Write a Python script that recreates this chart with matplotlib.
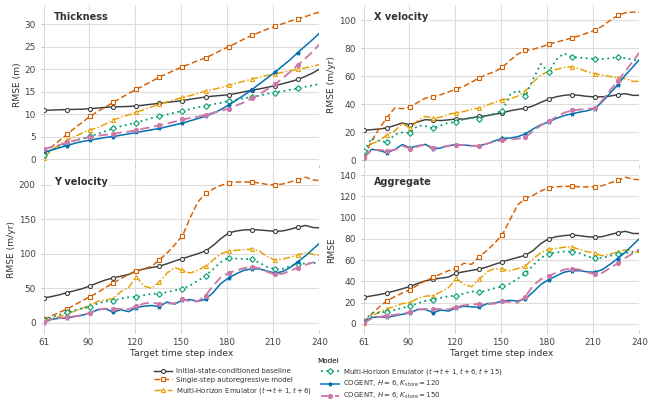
import matplotlib
matplotlib.use("Agg")
import matplotlib.pyplot as plt

# target time step index (every 5 steps, last one 240)
steps = [61, 66, 71, 76, 81, 86, 91, 96, 101, 106, 111, 116, 121, 126, 131, 136, 141, 146,
         151, 156, 161, 166, 171, 176, 181, 186, 191, 196, 201, 206, 211, 216, 221, 226,
         231, 236, 240]

models = [
    "Initial-state-conditioned baseline",
    "Single-step autoregressive model",
    r"Multi-Horizon Emulator ($t \rightarrow t+1, t+6$)",
    r"Multi-Horizon Emulator ($t \rightarrow t+1, t+6, t+15$)",
    r"COGENT, $H=6$, $K_{\rm store}=120$",
    r"COGENT, $H=6$, $K_{\rm store}=150$",
]

# ---- Thickness RMSE (m) ----
thk_base = [10.8, 10.9, 10.95, 11.0, 11.05, 11.1, 11.2, 11.35, 11.5, 11.6, 11.65, 11.7, 11.8, 12.0,
            12.2, 12.4, 12.6, 12.8, 13.0, 13.3, 13.55, 13.8, 14.0, 14.15, 14.3, 14.6, 14.95, 15.3,
            15.6, 15.95, 16.3, 16.75, 17.2, 17.7, 18.4, 19.2, 20.0]
thk_ar = [1.0, 2.7, 4.1, 5.5, 6.9, 8.2, 9.5, 10.6, 11.6, 12.6, 13.6, 14.6, 15.5, 16.4, 17.3, 18.2,
          19.0, 19.8, 20.5, 21.2, 21.9, 22.5, 23.3, 24.2, 25.0, 25.8, 26.7, 27.5, 28.2, 28.9, 29.5,
          30.1, 30.7, 31.2, 31.7, 32.3, 32.7]
thk_mh2 = [0.3, 2.0, 3.2, 4.2, 5.0, 5.8, 6.5, 7.0, 7.8, 8.7, 9.3, 9.8, 10.4, 11.0, 11.6, 12.2, 12.7,
           13.2, 13.7, 14.1, 14.6, 15.1, 15.5, 15.9, 16.4, 16.9, 17.3, 17.8, 18.2, 18.6, 18.9,
           19.3, 19.6, 20.0, 20.3, 20.7, 21.0]
thk_mh3 = [0.8, 2.0, 2.8, 3.4, 4.1, 4.6, 5.1, 5.6, 6.2, 6.8, 7.3, 7.7, 8.1, 8.6, 9.1, 9.5, 9.9, 10.3,
           10.7, 11.1, 11.5, 11.8, 12.2, 12.5, 12.9, 13.2, 13.5, 13.8, 14.1, 14.5, 14.8, 15.1, 15.4,
           15.7, 16.1, 16.4, 16.7]
thk_c120 = [1.5, 2.0, 2.5, 3.0, 3.5, 3.9, 4.2, 4.5, 4.8, 5.0, 5.3, 5.6, 5.9, 6.2, 6.5, 6.8, 7.2, 7.6,
            8.0, 8.5, 9.0, 9.5, 10.2, 11.0, 12.0, 13.1, 14.2, 15.4, 16.7, 18.0, 19.3, 20.7, 22.1,
            23.7, 25.2, 26.7, 28.0]
thk_c150 = [2.2, 2.7, 3.1, 3.7, 4.1, 4.5, 4.9, 5.2, 5.4, 5.6, 5.9, 6.1, 6.4, 6.8, 7.1, 7.5, 7.9, 8.3,
            8.8, 9.1, 9.4, 9.8, 10.3, 10.7, 11.2, 11.9, 12.6, 13.5, 14.4, 15.5, 16.6, 17.9, 19.4,
            20.9, 22.4, 24.0, 25.5]

# ---- X velocity RMSE (m/yr) ----
xv_base = [21.5, 22.0, 22.5, 23.3, 25.0, 26.8, 25.4, 27.5, 29.2, 28.7, 28.5, 29.0, 29.7, 29.5, 30.5,
           31.5, 32.0, 33.0, 34.0, 35.5, 36.5, 37.3, 39.0, 41.5, 43.8, 45.5, 46.5, 47.0, 46.5, 45.8,
           45.4, 45.5, 46.0, 47.0, 47.7, 46.5, 46.5]
xv_ar = [3.0, 14.0, 23.0, 30.6, 37.5, 37.0, 38.0, 41.5, 44.5, 45.6, 47.0, 49.0, 51.0, 53.0, 56.0,
         59.0, 61.5, 63.5, 66.5, 71.5, 76.0, 78.6, 79.5, 81.0, 83.0, 84.5, 86.0, 87.4, 89.0, 91.0,
         93.0, 96.0, 100.0, 103.6, 105.5, 106.0, 106.0]
xv_mh2 = [3.0, 12.0, 14.0, 18.5, 21.0, 26.5, 23.0, 28.5, 31.5, 30.0, 31.0, 33.0, 34.0, 35.0, 36.5,
          37.5, 39.5, 41.5, 43.5, 44.0, 46.0, 49.5, 56.0, 61.0, 63.7, 65.0, 66.5, 67.0, 65.5, 63.5,
          62.0, 61.0, 60.0, 59.0, 58.5, 56.5, 56.5]
xv_mh3 = [6.6, 16.0, 14.0, 13.0, 18.5, 20.0, 19.7, 25.0, 24.5, 23.0, 25.0, 27.0, 27.3, 29.5, 30.5,
          29.7, 32.0, 33.5, 35.6, 47.0, 50.0, 46.0, 58.0, 69.0, 63.0, 72.0, 76.5, 74.0, 73.5, 73.0,
          72.5, 72.5, 73.0, 74.0, 73.0, 72.0, 71.0]
xv_c120 = [2.0, 8.0, 7.0, 5.5, 7.8, 11.4, 9.0, 10.5, 11.5, 8.0, 9.0, 10.5, 11.4, 11.0, 10.5, 10.5,
           12.0, 14.0, 15.7, 16.0, 17.0, 19.0, 22.5, 25.5, 27.5, 30.0, 32.0, 33.3, 34.5, 35.5, 37.0,
           42.0, 48.0, 54.0, 61.0, 67.0, 72.0]
xv_c150 = [2.0, 7.5, 7.5, 7.0, 7.5, 10.5, 8.5, 10.0, 11.5, 9.0, 9.5, 10.5, 11.0, 11.0, 10.5, 10.5,
           12.0, 13.5, 14.5, 15.0, 15.5, 16.6, 21.0, 25.0, 28.0, 31.0, 34.0, 35.8, 36.3, 36.8, 37.3,
           43.0, 50.0, 56.6, 64.0, 71.0, 77.0]

# ---- Y velocity RMSE (m/yr) ----
yv_base = [36.0, 38.0, 40.5, 43.8, 46.5, 49.5, 53.5, 58.0, 62.0, 65.0, 67.5, 70.0, 75.0, 78.0, 80.0,
           82.0, 85.5, 89.5, 93.0, 96.5, 100.0, 104.0, 112.0, 122.0, 130.0, 133.0, 134.5, 135.0,
           134.5, 133.5, 132.5, 133.0, 135.5, 138.5, 141.0, 138.0, 137.5]
yv_ar = [4.8, 10.0, 15.0, 20.0, 26.0, 32.0, 38.0, 44.0, 51.0, 57.7, 64.0, 70.0, 75.0, 78.0, 82.0,
         91.0, 101.0, 113.0, 126.0, 152.0, 175.0, 187.5, 194.0, 199.0, 203.0, 204.0, 204.0, 204.0,
         202.5, 200.5, 200.0, 201.0, 204.0, 207.0, 211.0, 207.0, 206.0]
yv_mh2 = [2.0, 6.0, 9.0, 13.0, 17.0, 21.0, 25.0, 31.0, 33.0, 35.0, 45.0, 51.0, 67.0, 53.0, 50.0,
          59.0, 72.0, 80.0, 76.0, 72.0, 76.0, 82.0, 91.0, 100.0, 104.0, 105.0, 106.0, 106.7, 104.0,
          96.0, 91.0, 92.0, 95.0, 98.0, 102.0, 99.0, 98.0]
yv_mh3 = [3.4, 8.0, 11.5, 15.0, 18.0, 21.0, 23.0, 28.0, 31.0, 32.0, 35.0, 37.0, 37.0, 40.0, 42.0,
          42.0, 44.5, 47.0, 49.0, 54.0, 61.0, 68.0, 78.0, 88.0, 94.5, 93.0, 92.5, 92.0, 87.0, 81.0,
          78.0, 78.0, 82.0, 85.0, 86.0, 86.5, 87.5]
yv_c120 = [0.0, 5.0, 6.5, 7.0, 9.0, 11.0, 14.0, 19.0, 20.0, 15.5, 19.0, 16.0, 22.0, 24.0, 25.0, 23.5,
           30.0, 27.0, 33.0, 33.5, 31.0, 34.0, 44.0, 57.0, 65.0, 71.0, 76.0, 78.0, 78.0, 75.0, 72.0,
           74.0, 80.0, 88.5, 97.0, 107.0, 115.0]
yv_c150 = [1.0, 5.0, 7.0, 8.0, 9.5, 11.0, 14.4, 19.0, 20.5, 20.5, 20.0, 19.5, 24.0, 28.0, 29.0, 27.5,
           28.0, 28.0, 34.5, 31.0, 31.0, 39.0, 54.0, 66.0, 72.0, 76.0, 79.0, 81.0, 79.0, 74.0, 70.0,
           71.0, 75.0, 80.0, 84.0, 87.5, 91.0]

# ---- Aggregate RMSE ----
ag_base = [25.0, 26.3, 27.5, 29.0, 31.0, 33.0, 35.2, 38.0, 40.5, 42.0, 43.0, 44.0, 47.7, 49.0, 50.3,
           51.5, 53.5, 56.0, 58.3, 60.5, 62.5, 64.5, 69.0, 75.5, 80.0, 82.0, 83.0, 83.6, 83.0, 82.0,
           81.4, 82.0, 84.0, 85.7, 87.0, 85.0, 85.0]
ag_ar = [1.6, 9.0, 16.0, 21.8, 25.5, 29.0, 32.0, 36.5, 40.5, 43.7, 47.0, 50.0, 52.4, 57.0, 56.0,
         63.3, 69.0, 76.0, 84.0, 98.0, 112.0, 118.0, 121.0, 125.0, 128.0, 129.0, 129.3, 129.4,
         129.0, 128.8, 128.8, 130.0, 132.5, 135.0, 138.0, 136.0, 135.6]
ag_mh2 = [1.0, 7.0, 11.0, 14.0, 16.5, 19.0, 20.0, 24.0, 26.0, 26.5, 30.0, 34.0, 42.7, 37.0, 35.0,
          42.0, 49.0, 52.0, 51.4, 50.0, 52.0, 54.6, 61.0, 67.0, 70.0, 71.0, 72.0, 72.6, 70.0, 68.0,
          66.5, 64.0, 65.5, 67.7, 69.5, 68.0, 67.0]
ag_mh3 = [3.0, 10.0, 10.5, 11.5, 13.0, 15.0, 16.5, 19.5, 21.5, 22.8, 24.5, 26.0, 26.5, 28.5, 30.5,
          29.6, 31.5, 33.5, 35.2, 38.0, 42.5, 47.4, 55.0, 62.0, 66.0, 67.0, 68.0, 68.0, 66.5, 63.5,
          61.7, 62.0, 64.0, 65.5, 66.5, 67.5, 68.6]
ag_c120 = [1.6, 6.0, 6.5, 6.0, 7.5, 9.0, 10.3, 13.5, 13.5, 10.5, 13.0, 12.0, 15.0, 16.5, 16.0, 15.5,
           19.0, 19.5, 21.5, 22.0, 21.5, 23.4, 30.0, 37.0, 41.5, 45.0, 48.5, 50.0, 50.0, 49.0, 48.5,
           51.0, 56.0, 61.4, 67.5, 74.5, 80.0]
ag_c150 = [1.0, 5.0, 6.5, 7.8, 8.5, 9.5, 11.0, 13.5, 14.0, 14.0, 14.0, 13.5, 16.0, 17.5, 18.0, 18.7,
           18.5, 19.0, 21.0, 20.5, 20.0, 25.6, 36.0, 42.0, 45.0, 48.0, 51.0, 52.0, 51.0, 48.5, 46.8,
           48.0, 52.5, 57.0, 62.0, 66.5, 70.0]

panels = [
    ("Thickness", "RMSE (m)", [thk_base, thk_ar, thk_mh2, thk_mh3, thk_c120, thk_c150]),
    ("X velocity", "RMSE (m/yr)", [xv_base, xv_ar, xv_mh2, xv_mh3, xv_c120, xv_c150]),
    ("Y velocity", "RMSE (m/yr)", [yv_base, yv_ar, yv_mh2, yv_mh3, yv_c120, yv_c150]),
    ("Aggregate", "RMSE", [ag_base, ag_ar, ag_mh2, ag_mh3, ag_c120, ag_c150]),
]

styles = [
    dict(color="#3f3f3f", ls="-", marker="o", mfc="white", lw=1.05),
    dict(color="#d55e00", ls=(0, (4, 2)), marker="s", mfc="white", lw=1.05),
    dict(color="#e69f00", ls=(0, (5, 1.5, 1, 1.5)), marker="^", mfc="white", lw=1.05),
    dict(color="#009e73", ls=(0, (1, 2)), marker="D", mfc="white", lw=1.3),
    dict(color="#0072b2", ls="-", marker="*", mfc="#0072b2", lw=1.1),
    dict(color="#cc79a7", ls=(0, (5, 2.5)), marker="o", mfc="#cc79a7", lw=1.35),
]
marks = list(range(0, 34, 3))

fig, axes = plt.subplots(2, 2, figsize=(6.57, 4.01), dpi=100, sharex=True)
fig.subplots_adjust(left=0.067, right=0.973, top=0.988, bottom=0.177, wspace=0.162, hspace=0.031)

for ax, (name, ylab, series) in zip(axes.flat, panels):
    for lab, ys, st in zip(models, series, styles):
        ax.plot(steps, ys, label=lab, markevery=marks, ms=2.9, mew=0.8, **st)
    ax.set_xlim(61, 240)
    ax.set_xticks([61, 90, 120, 150, 180, 210, 240])
    ax.grid(True, color="#dddddd", lw=0.8)
    ax.set_axisbelow(True)
    for s in ax.spines.values():
        s.set_visible(False)
    ax.tick_params(labelsize=6.4, colors="#444444", length=2.5, width=0.6)
    ax.tick_params(axis="both", color="#bbbbbb")
    ax.set_ylabel(ylab, fontsize=6.6, color="#333333", labelpad=2)
    ax.text(0.035, 0.955, name, transform=ax.transAxes, fontsize=7, fontweight="bold",
            color="#333333", va="top", ha="left",
            bbox=dict(facecolor="white", edgecolor="none", pad=1.0))

for ax in axes[1]:
    ax.set_xlabel("Target time step index", fontsize=6.6, color="#333333", labelpad=1)
for ax in axes[0]:
    ax.tick_params(labelbottom=False)

handles, labels = axes[0, 0].get_legend_handles_labels()
leg = fig.legend(handles, labels,
                 loc="upper center", bbox_to_anchor=(0.5, 0.118), ncol=2, frameon=False,
                 fontsize=5, title="Model", title_fontsize=5.2, handlelength=2.6,
                 columnspacing=1.2, labelspacing=0.3, borderpad=0.1, handletextpad=0.6)
for t in leg.get_texts():
    t.set_color("#333333")

fig.savefig("out.png", dpi=100)
